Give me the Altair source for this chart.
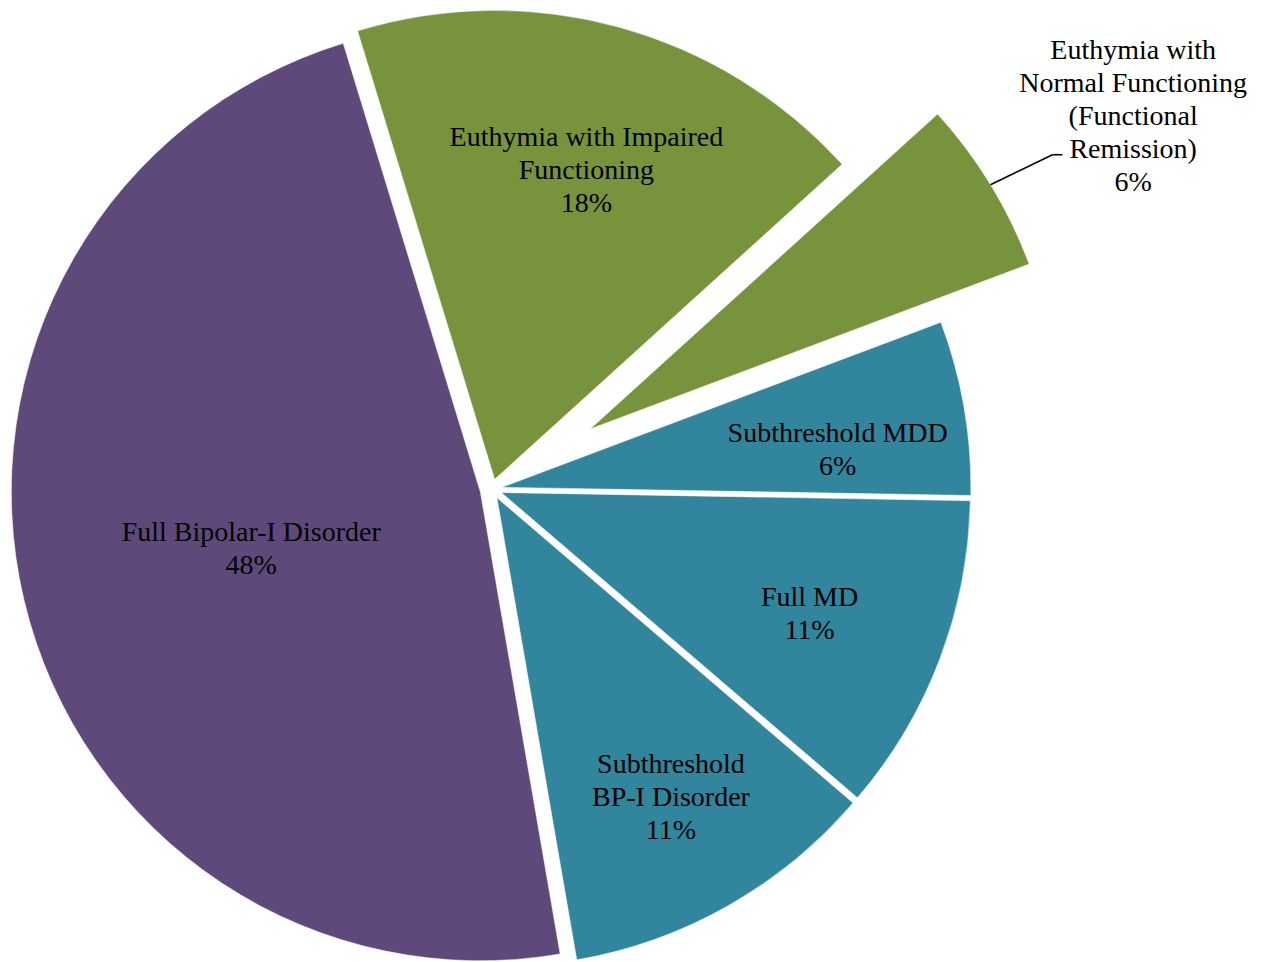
import altair as alt
import pandas as pd

# ---- data ----
categories = [
    "Euthymia with Impaired Functioning",
    "Euthymia with Normal Functioning (Functional Remission)",
    "Subthreshold MDD",
    "Full MD",
    "Subthreshold BP-I Disorder",
    "Full Bipolar-I Disorder",
]
label_lines = [
    "Euthymia with Impaired\nFunctioning",
    "Euthymia with\nNormal Functioning\n(Functional\nRemission)",
    "Subthreshold MDD",
    "Full MD",
    "Subthreshold\nBP-I Disorder",
    "Full Bipolar-I Disorder",
]
values = [18, 6, 6, 11, 11, 48]

# ---- style ----
colors = ["#77933C", "#77933C", "#31859C", "#31859C", "#31859C", "#5F497A"]
explode = [10, 115, 10, 10, 10, 12]
label_radius = [323, 627, 338, 331, 346, 236]
label_dtheta = [1.1, 1.4, 3.3, 0.6, -0.6, -0.5]  # degrees
outside = [0, 1, 0, 0, 0, 0]

W, H = 1272, 962
CX, CY, R = 492, 489, 469
START_DEG = 343.0
ELBOW_DX, ELBOW_DY = 62, -30
TAIL = 10
FONT = "Liberation Serif"
FS = 28
LH = 33

texts = [f"{l}\n{v}%" for l, v in zip(label_lines, values)]
df = pd.DataFrame({
    "order": list(range(len(categories))),
    "category": categories,
    "value": values,
    "txt": texts,
    "n": [t.count("\n") + 1 for t in texts],
    "explode": explode,
    "lr": label_radius,
    "ldt": label_dtheta,
    "outside": outside,
})

start = START_DEG * 3.141592653589793 / 180.0

base = (
    alt.Chart(df)
    .transform_window(cum="sum(value)", sort=[{"field": "order"}], frame=[None, 0])
    .transform_joinaggregate(total="sum(value)")
    .transform_calculate(a1=f"{start} + 2*PI*datum.cum/datum.total")
    .transform_calculate(a0="datum.a1 - 2*PI*datum.value/datum.total")
    .transform_calculate(mid="(datum.a0 + datum.a1)/2")
    .transform_calculate(
        cx=f"{CX} + datum.explode*sin(datum.mid)",
        cy=f"{CY} - datum.explode*cos(datum.mid)",
        lang="(datum.a0 + datum.a1)/2 + datum.ldt*PI/180",
    )
    .transform_calculate(
        lx="datum.cx + datum.lr*sin(datum.lang)",
        ly="datum.cy - datum.lr*cos(datum.lang)",
        ex=f"datum.cx + {R}*sin(datum.mid)",
        ey=f"datum.cy - {R}*cos(datum.mid)",
    )
    .transform_calculate(
        bx=f"datum.ex + {ELBOW_DX}",
        by=f"datum.ey + {ELBOW_DY}",
        ty=f"datum.ly - (datum.n - 1)*{LH}/2 + 1",
    )
    .transform_calculate(tx=f"datum.bx + {TAIL}")
)

arcs = base.mark_arc(radius=R, stroke="white", strokeWidth=0.5).encode(
    x=alt.X("cx:Q", scale=None, axis=None),
    y=alt.Y("cy:Q", scale=None, axis=None),
    theta=alt.Theta("a0:Q", scale=None, stack=None),
    theta2="a1:Q",
    color=alt.Color("category:N", scale=alt.Scale(domain=categories, range=colors), legend=None),
)

leader1 = base.transform_filter("datum.outside > 0").mark_rule(color="black", strokeWidth=1.6).encode(
    x=alt.X("ex:Q", scale=None, axis=None),
    y=alt.Y("ey:Q", scale=None, axis=None),
    x2="bx:Q",
    y2="by:Q",
)
leader2 = base.transform_filter("datum.outside > 0").mark_rule(color="black", strokeWidth=1.6).encode(
    x=alt.X("bx:Q", scale=None, axis=None),
    y=alt.Y("by:Q", scale=None, axis=None),
    x2="tx:Q",
    y2="by:Q",
)

labels = base.mark_text(
    font=FONT, fontSize=FS, color="black", align="center", baseline="middle",
    lineBreak="\n", lineHeight=LH,
).encode(
    x=alt.X("lx:Q", scale=None, axis=None),
    y=alt.Y("ty:Q", scale=None, axis=None),
    text="txt:N",
)

chart = (
    alt.layer(arcs, leader1, leader2, labels)
    .properties(width=W, height=H, padding=0, autosize=alt.AutoSizeParams(type="none"), background="white")
    .configure_view(stroke=None)
)

chart.save("out.html", embed_options={"renderer": "svg", "actions": False})
